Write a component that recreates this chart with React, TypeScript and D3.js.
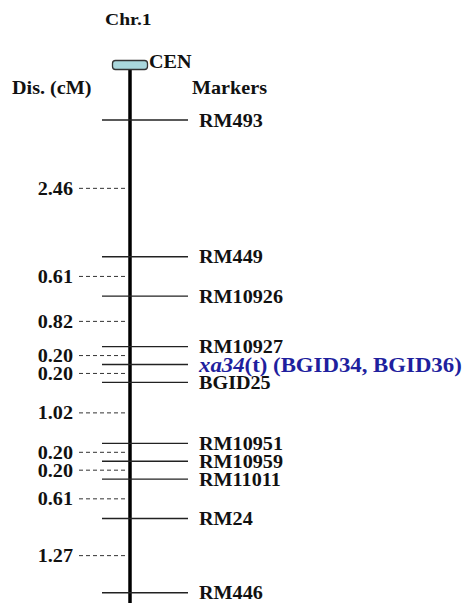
import * as d3 from "d3";
import React, { useEffect, useRef } from "react";

// markers from the top of the chromosome down
const markers = ["RM493", "RM449", "RM10926", "RM10927", "xa34", "BGID25", "RM10951", "RM10959", "RM11011", "RM24", "RM446"];
// genetic distance (cM) between neighbouring markers
const distances = [2.46, 0.61, 0.82, 0.2, 0.2, 1.02, 0.2, 0.2, 0.61, 1.27];
const distLabels = ["2.46", "0.61", "0.82", "0.20", "0.20", "1.02", "0.20", "0.20", "0.61", "1.27"];
const geneLabel = { gene: "xa34", suffix: "(t) (BGID34, BGID36)" };

const W = 467;
const H = 603;
const FONT = "'Liberation Serif', 'Times New Roman', serif";
const SX = 1.12; // the original text is a bit wider than plain Times

const App: React.FC = () => {
  const ref = useRef<SVGSVGElement>(null);

  useEffect(() => {
    const svg = d3.select(ref.current).html("");
    const chrX = 130;

    // drawn gap per interval: a fixed minimum plus a part proportional to cM
    const gap = d3.scaleLinear().domain([0, 1]).range([7.36, 59.94]);
    const cum = [0];
    distances.forEach((d, i) => cum.push(cum[i] + gap(d)));
    const y = d3.scaleLinear().domain([0, cum[cum.length - 1]]).range([120, 592.7]);

    const label = (x: number, yy: number, txt: string, size = 18, anchor = "start") =>
      svg
        .append("text")
        .attr("transform", `translate(${x},${yy}) scale(${SX},1)`)
        .attr("font-family", FONT)
        .attr("font-weight", "bold")
        .attr("font-size", size)
        .attr("text-anchor", anchor)
        .attr("fill", "#111")
        .text(txt);

    // headers
    label(105, 25, "Chr.1", 17.5);
    label(12, 94, "Dis. (cM)", 18);
    label(192, 94, "Markers", 18);

    // chromosome
    svg.append("line")
      .attr("x1", chrX).attr("x2", chrX)
      .attr("y1", 68).attr("y2", H)
      .attr("stroke", "#000").attr("stroke-width", 3.5);

    // centromere
    svg.append("rect")
      .attr("x", 112.5).attr("y", 60.5)
      .attr("width", 35).attr("height", 9)
      .attr("rx", 3)
      .attr("fill", "#a9d7dc")
      .attr("stroke", "#333").attr("stroke-width", 1.3);
    label(149, 68, "CEN", 18);

    // markers
    markers.forEach((m, i) => {
      const yy = y(cum[i]);
      svg.append("line")
        .attr("x1", 102).attr("x2", 188)
        .attr("y1", yy).attr("y2", yy)
        .attr("stroke", "#222").attr("stroke-width", 1.4);

      if (m === geneLabel.gene) {
        const t = svg.append("text")
          .attr("transform", `translate(199,${yy + 7}) scale(1.14,1)`)
          .attr("font-family", FONT)
          .attr("font-weight", "bold")
          .attr("font-size", 20)
          .attr("fill", "#1f1f9e");
        t.append("tspan").attr("font-style", "italic").text(geneLabel.gene);
        t.append("tspan").text(geneLabel.suffix);
      } else {
        label(199, yy + 6.5, m, 18);
      }
    });

    // distances, dashed lines halfway between markers
    distances.forEach((_, i) => {
      const yy = (y(cum[i]) + y(cum[i + 1])) / 2;
      svg.append("line")
        .attr("x1", 79).attr("x2", 128)
        .attr("y1", yy).attr("y2", yy)
        .attr("stroke", "#333").attr("stroke-width", 1)
        .attr("stroke-dasharray", "4,3");
      label(73, yy + 6.5, distLabels[i], 18, "end");
    });
  }, []);

  return (
    <svg
      ref={ref}
      width={W}
      height={H}
      style={{ position: "absolute", left: 0, top: 0, background: "#fff" }}
    />
  );
};

export default App;
